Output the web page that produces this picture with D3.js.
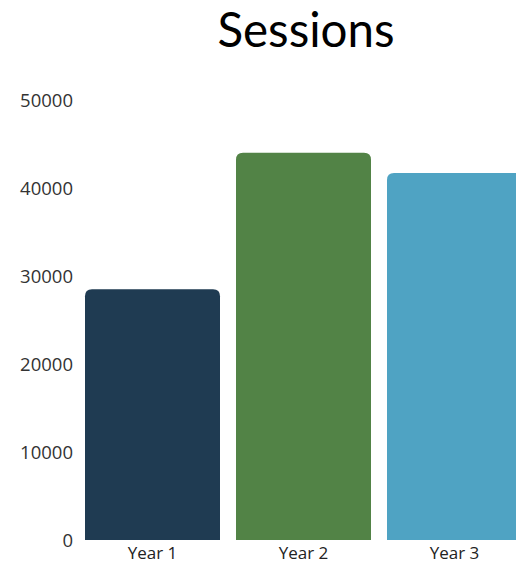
<!DOCTYPE html>
<html><head><meta charset="utf-8">
<script src="https://cdn.jsdelivr.net/npm/d3@7"></script>
<style>html,body{margin:0;padding:0;background:#fff;overflow:hidden}</style>
</head><body>
<svg id="c" width="516" height="565"></svg>
<script>
const categories = ["Year 1", "Year 2", "Year 3"];
const sessions = [28500, 44000, 41700];
const colors = ["#1f3b52", "#528346", "#4fa3c3"];
const yTicks = [0, 10000, 20000, 30000, 40000, 50000];
const title = "Sessions";

const svg = d3.select("#c");
const x = d3.scaleBand().domain(categories).range([77, 530])
  .paddingInner(16/151).paddingOuter(8/151);
const y = d3.scaleLinear().domain([0, 50000]).range([540, 100]);

svg.append("text").attr("x", 306).attr("y", 47).attr("text-anchor", "middle")
  .attr("font-family", "Lato, 'Open Sans', sans-serif").attr("font-size", 47.5)
  .attr("fill", "#000").text(title);

const r = 7;
function barPath(x0, w, yt, yb) {
  return `M${x0},${yb}V${yt + r}Q${x0},${yt} ${x0 + r},${yt}H${x0 + w - r}Q${x0 + w},${yt} ${x0 + w},${yt + r}V${yb}Z`;
}
svg.selectAll("path.bar").data(categories).join("path").attr("class", "bar")
  .attr("d", (d, i) => barPath(x(d), x.bandwidth(), y(sessions[i]), y(0)))
  .attr("fill", (d, i) => colors[i]);

const ya = d3.axisLeft(y).tickValues(yTicks).tickSize(0).tickPadding(0).tickFormat(d3.format("d"));
const yg = svg.append("g").attr("transform", "translate(73,1)").call(ya);
yg.select(".domain").remove();
yg.selectAll("text").attr("font-family", "'Open Sans', sans-serif").attr("font-size", 18.5).attr("fill", "#333");

const xa = d3.axisBottom(x).tickSize(0).tickPadding(7);
const xg = svg.append("g").attr("transform", "translate(0,540)").call(xa);
xg.select(".domain").remove();
xg.selectAll("text").attr("font-family", "'Open Sans', sans-serif").attr("font-size", 17).attr("fill", "#222");
</script>
</body></html>
